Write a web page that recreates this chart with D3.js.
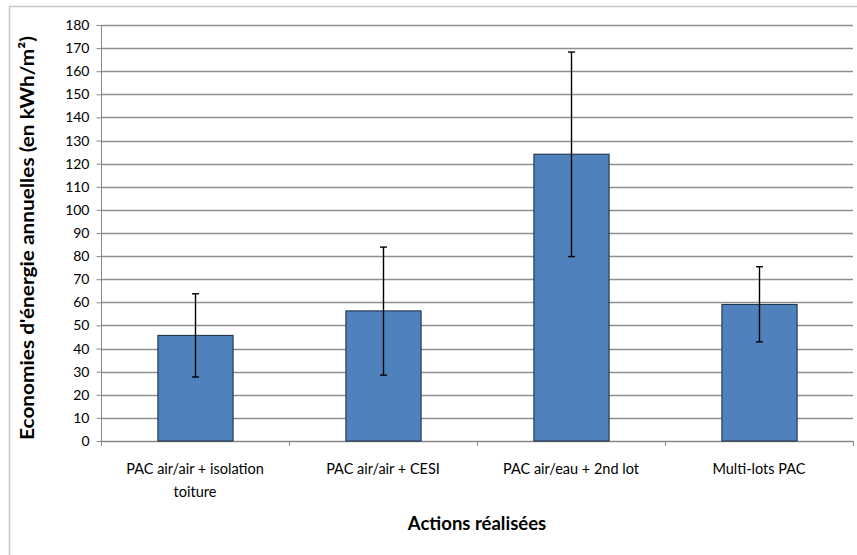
<!DOCTYPE html>
<html><head><meta charset="utf-8">
<script src="https://cdn.jsdelivr.net/npm/d3@7"></script>
<style>body{margin:0;background:#fff;} svg{display:block;font-family:Lato,"Open Sans",sans-serif;}</style>
</head><body>
<svg id="c" width="857" height="555"></svg>
<script>
const categories = [["PAC air/air + isolation","toiture"],["PAC air/air + CESI"],["PAC air/eau + 2nd lot"],["Multi-lots PAC"]];
const values = [45.7, 56.3, 124.1, 59.1];
const errLow = [27.7, 28.5, 79.8, 42.9];
const errHigh = [63.7, 83.9, 168.3, 75.4];
const yTicks = d3.range(0, 181, 10);
const yTitle = "Economies d'énergie annuelles (en kWh/m²)";
const xTitle = "Actions réalisées";

const svg = d3.select("#c");
const L = 101, R = 853, T = 25, B = 441;
svg.append("rect").attr("x",9.5).attr("y",6.5).attr("width",870).attr("height",570)
  .attr("fill","#fff").attr("stroke","#c8c8c8").attr("stroke-width",1.5);

const x = d3.scaleBand().domain(d3.range(categories.length)).range([L,R]).paddingInner(0.6).paddingOuter(0.3);
const y = d3.scaleLinear().domain([0,180]).range([B,T]);

// gridlines
svg.append("g").selectAll("line").data(yTicks.filter(d=>d>0)).join("line")
  .attr("x1",L).attr("x2",R).attr("y1",d=>Math.round(y(d))+0.5).attr("y2",d=>Math.round(y(d))+0.5)
  .attr("stroke","#8f8f8f").attr("stroke-width",1.3);

// y axis
const ya = svg.append("g").attr("transform",`translate(${L+0.5},0)`)
  .call(d3.axisLeft(y).tickValues(yTicks).tickSize(5).tickPadding(7).tickFormat(d3.format("d")));
ya.select(".domain").attr("stroke","#888").attr("d",`M0,${T}V${B}`);
ya.selectAll(".tick line").attr("stroke","#888");
ya.selectAll("text").attr("font-size",14).attr("fill","#000").attr("font-family","Lato, sans-serif");

// x axis
const bounds = d3.range(categories.length+1).map(i=>L+(R-L)*i/categories.length);
svg.append("line").attr("x1",L).attr("x2",R).attr("y1",B+0.5).attr("y2",B+0.5).attr("stroke","#888").attr("stroke-width",1.3);
svg.append("g").selectAll("line").data(bounds).join("line")
  .attr("x1",d=>Math.round(d)+0.5).attr("x2",d=>Math.round(d)+0.5).attr("y1",B).attr("y2",B+5).attr("stroke","#888");

// bars
svg.append("g").selectAll("rect").data(values).join("rect")
  .attr("x",(d,i)=>x(i)+0.5).attr("width",x.bandwidth()).attr("y",d=>y(d)).attr("height",d=>B-y(d))
  .attr("fill","#4F81BD").attr("stroke","#1a2a40").attr("stroke-width",1);

// error bars
const eg = svg.append("g").attr("stroke","#000").attr("stroke-width",1.4);
values.forEach((v,i)=>{
  const cx = Math.round(x(i)+x.bandwidth()/2)+0.5;
  eg.append("line").attr("x1",cx).attr("x2",cx).attr("y1",y(errHigh[i])).attr("y2",y(errLow[i]));
  [errHigh[i],errLow[i]].forEach(e=>eg.append("line").attr("x1",cx-3.5).attr("x2",cx+3.5).attr("y1",y(e)).attr("y2",y(e)));
});

// x labels
const xl = svg.append("g");
categories.forEach((lines,i)=>{
  const cx = x(i)+x.bandwidth()/2;
  lines.forEach((t,j)=>xl.append("text").attr("x",cx).attr("y",474+j*23).attr("text-anchor","middle")
    .attr("font-size",14.5).attr("fill","#000").text(t));
});

// titles
svg.append("text").attr("x",477).attr("y",530).attr("text-anchor","middle").attr("font-weight","bold")
  .attr("font-size",18.5).text(xTitle);
svg.append("text").attr("transform","translate(34,238) rotate(-90)").attr("text-anchor","middle")
  .attr("font-weight","bold").attr("font-size",18.5).attr("textLength",404).attr("lengthAdjust","spacingAndGlyphs").text(yTitle);
</script>
</body></html>
